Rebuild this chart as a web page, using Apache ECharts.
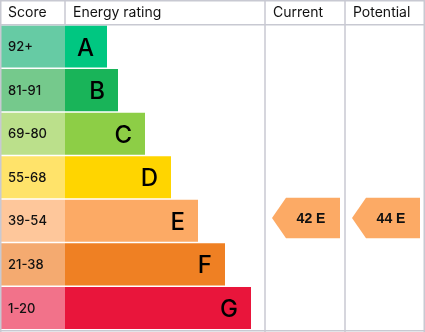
<!DOCTYPE html>
<html><head><meta charset="utf-8">
<script src="https://cdn.jsdelivr.net/npm/echarts@6/dist/echarts.min.js"></script>
<style>html,body{margin:0;padding:0;background:#fff}#c{width:425px;height:332px}</style>
</head><body><div id="c"></div>
<script>
const headers = ['Score', 'Energy rating', 'Current', 'Potential'];
const ratings = ['A', 'B', 'C', 'D', 'E', 'F', 'G'];
const scoreBands = ['92+', '81-91', '69-80', '55-68', '39-54', '21-38', '1-20'];
const barLengths = [42, 53, 80, 106, 133, 160, 186];
const barColors = ['#00c781', '#19b459', '#8dce46', '#ffd500', '#fcaa65', '#ef8023', '#e9153b'];
const bandColors = ['#66cba4', '#75c98c', '#bbe08b', '#ffe36a', '#fec79b', '#f4aa70', '#f2728a'];
const currentScore = 42, currentRating = 'E';
const potentialScore = 44, potentialRating = 'E';

const SCORE_W = 65, CUR_X = 265, POT_X = 345, W = 425;
const LINE = '#c8c9d2';
const chart = echarts.init(document.getElementById('c'));

const barData = ratings.map((r, i) => [i, barLengths[i]]);
const bandData = ratings.map((r, i) => [i, SCORE_W]);
const arrowData = [
  [CUR_X, ratings.indexOf(currentRating), currentScore],
  [POT_X, ratings.indexOf(potentialRating), potentialScore]
];

function hline(y, x1, x2) { return {type:'line', z:100, shape:{x1:x1, y1:y, x2:x2, y2:y}, style:{stroke:LINE, lineWidth:1.5}}; }
function vline(x, y1, y2) { return {type:'line', z:100, shape:{x1:x, y1:y1, x2:x, y2:y2}, style:{stroke:LINE, lineWidth:1.5}}; }
const headerX = [8, 73, 273, 353];

chart.setOption({
  animation: false,
  grid: {left: 0, right: 0, top: 25.5, bottom: 1.5},
  xAxis: {type: 'value', min: 0, max: W, show: false},
  yAxis: {type: 'category', data: ratings, inverse: true, show: false},
  graphic: [
    hline(0.75, 0, W), hline(330.75, 0, W), hline(24.75, 0, W),
    vline(0.75, 0, 332), vline(424.25, 0, 332),
    vline(65, 0, 25), vline(CUR_X, 0, 332), vline(POT_X, 0, 332)
  ].concat(headers.map((h, i) => ({
    type: 'text', z: 100, x: headerX[i], y: 13,
    style: {text: h, font: '14px Inter', fill: '#111', verticalAlign: 'middle'}
  }))),
  series: [
    {
      type: 'custom', data: bandData,
      renderItem(params, api) {
        const idx = api.value(0);
        const p0 = api.coord([0, idx]), p1 = api.coord([api.value(1), idx]);
        const h = api.size([0, 1])[1];
        return {type: 'group', children: [
          {type: 'rect', shape: {x: p0[0], y: p0[1] - h / 2, width: p1[0] - p0[0], height: h - 1.5}, style: {fill: bandColors[idx]}},
          {type: 'text', style: {text: scoreBands[idx], x: p0[0] + 8, y: p0[1], verticalAlign: 'middle', font: '500 13px Inter', fill: '#111'}}
        ]};
      }
    },
    {
      type: 'custom', data: barData,
      renderItem(params, api) {
        const idx = api.value(0);
        const p0 = api.coord([SCORE_W, idx]), p1 = api.coord([SCORE_W + api.value(1), idx]);
        const h = api.size([0, 1])[1];
        return {type: 'group', children: [
          {type: 'rect', shape: {x: p0[0], y: p0[1] - h / 2, width: p1[0] - p0[0], height: h - 1.5}, style: {fill: barColors[idx]}},
          {type: 'text', style: {text: ratings[idx], x: p1[0] - 13, y: p0[1] + 1, align: 'right', verticalAlign: 'middle', font: '500 24px Inter', fill: '#000'}}
        ]};
      }
    },
    {
      type: 'custom', data: arrowData,
      renderItem(params, api) {
        const idx = api.value(1);
        const c = api.coord([api.value(0), idx]);
        const x0 = c[0] + 7, x1 = c[0] + 21, x2 = c[0] + 75;
        const yc = c[1] - 3.5, hh = 20.2;
        return {type: 'group', children: [
          {type: 'polygon', shape: {points: [[x0, yc], [x1, yc - hh], [x2, yc - hh], [x2, yc + hh], [x1, yc + hh]]}, style: {fill: barColors[idx]}},
          {type: 'text', style: {text: api.value(2) + ' ' + ratings[idx], x: (x1 + x2) / 2 - 2, y: yc + 1, align: 'center', verticalAlign: 'middle', font: 'bold 14px "Liberation Sans"', fill: '#111'}}
        ]};
      }
    }
  ]
});
</script></body></html>
